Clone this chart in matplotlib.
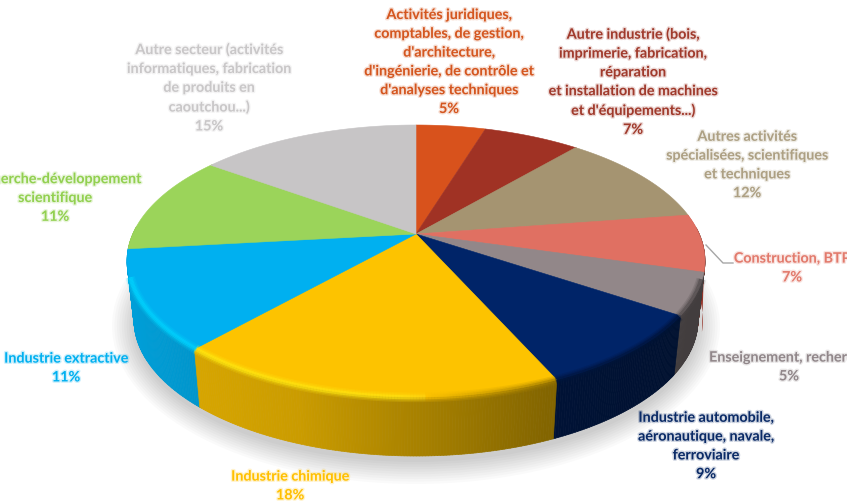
import matplotlib
matplotlib.use("Agg")
import matplotlib.pyplot as plt
import matplotlib.patheffects as pe
from matplotlib.collections import PolyCollection, LineCollection
from matplotlib.patches import Ellipse
from matplotlib.colors import to_rgb
import numpy as np

plt.rcParams['font.family'] = ['Lato', 'DejaVu Sans']

labels = [
    "Activités juridiques,\ncomptables, de gestion,\nd'architecture,\nd'ingénierie, de contrôle et\nd'analyses techniques",
    "Autre industrie (bois,\nimprimerie, fabrication,\nréparation\net installation de machines\net d'équipements...)",
    "Autres activités\nspécialisées, scientifiques\net techniques",
    "Construction, BTP",
    "Enseignement, recherche",
    "Industrie automobile,\naéronautique, navale,\nferroviaire",
    "Industrie chimique",
    "Industrie extractive",
    "Recherche-développement\nscientifique",
    "Autre secteur (activités\ninformatiques, fabrication\nde produits en\ncaoutchou...)",
]
values = [5, 7, 12, 7, 5, 9, 18, 11, 11, 15]
colors = ['#D8521C', '#A03224', '#A59471', '#E07062', '#928789',
          '#002468', '#FDC300', '#00B0F0', '#9BD45A', '#C7C5C6']
text_colors = ['#D4561F', '#A03A2C', '#ADA083', '#E27A6C', '#91878A',
               '#0A2A66', '#FFC000', '#00B0F0', '#92D050', '#C9C7C8']
label_x = [449, 633, 747, 792, 789, 706, 290, 66, 55, 209]
label_y = [62, 82, 165, 268, 367, 446, 486, 368, 198, 88]

# geometry of the tilted pie, in pixels
cx, cy, rx, ry = 416, 261, 289, 136
apex = (416, 234)
bx, by, brx, bry = 416, 320, 282, 136


def warp(deg):
    # pie angle -> angle on the drawn ellipse (perspective)
    r = np.radians(deg)
    return np.radians(deg - 12.7 * np.sin(r) + 3.7 * np.cos(r) - 3.7)


def top(t, k=1.0):
    return cx + k * rx * np.sin(t), cy - k * ry * np.cos(t)


def bottom(t):
    return bx + brx * np.sin(t), by - bry * np.cos(t)


fig = plt.figure(figsize=(8.47, 5.01), dpi=100)
ax = fig.add_axes([0, 0, 1, 1])
ax.set_xlim(0, 847)
ax.set_ylim(501, 0)
ax.axis('off')

# soft shadow under the pie
for g in np.linspace(0, 22, 10):
    ax.add_patch(Ellipse((bx, by + 6), 2 * brx + 2 * g, 2 * bry + 2 * g,
                         fc='black', ec='none', alpha=0.018, zorder=1))

edges = np.concatenate([[0], np.cumsum(values)]) / sum(values) * 360

# the Construction slice sticks out a little behind its neighbour
t = warp(np.arange(edges[3], edges[4] + 0.5, 0.5))
x1, y1 = top(t)
x2, y2 = bottom(t)
ax.fill(np.r_[x1, x2[::-1] + 5], np.r_[y1, y2[::-1]], color='#96352A', lw=0, zorder=1.5)

# side of the pie, darker towards the right
polys, cols = [], []
for i, c in enumerate(colors):
    a = np.arange(edges[i], edges[i + 1] + 0.5, 0.5)
    t = warp(a)
    x1, y1 = top(t)
    x2, y2 = bottom(t)
    base = np.array(to_rgb(c))
    for j in range(len(a) - 1):
        if np.cos(t[j]) > 0.25:
            continue
        polys.append([(x1[j], y1[j]), (x1[j + 1], y1[j + 1]),
                      (x2[j + 1], y2[j + 1]), (x2[j], y2[j])])
        f = np.interp(x1[j], [130, 195, 300, 548, 700], [0.9, 0.85, 0.8, 0.52, 0.45])
        cols.append(base * f)
order = np.argsort([p[0][1] for p in polys])
ax.add_collection(PolyCollection([polys[o] for o in order],
                                 facecolors=[cols[o] for o in order],
                                 edgecolors=[cols[o] for o in order],
                                 linewidths=0.5, zorder=2))

# top face
for i, c in enumerate(colors):
    t = warp(np.arange(edges[i], edges[i + 1] + 0.5, 0.5))
    x, y = top(t)
    ax.fill(np.r_[apex[0], x], np.r_[apex[1], y], color=c, lw=0.4, zorder=3)

# bevel on the front edge: bright on the left, dark on the right
segs, seg_cols = [], []
for i, c in enumerate(colors):
    a = np.arange(edges[i], edges[i + 1] + 0.5, 0.5)
    t = warp(a)
    x, y = top(t, 0.995)
    base = np.array(to_rgb(c))
    for j in range(len(a) - 1):
        if np.cos(t[j]) > -0.12:
            continue
        m = np.interp(x[j], [130, 400, 560, 700], [1.12, 1.08, 0.6, 0.5])
        col = np.clip(base * m, 0, 1)
        if m > 1:
            col = np.clip(col + np.array([0, 0.07, 0.07]), 0, 1)
        segs.append([(x[j], y[j] + 1), (x[j + 1], y[j + 1] + 1)])
        seg_cols.append(col)
for lw, al in [(7, 0.18), (5, 0.25), (3, 0.55)]:
    ax.add_collection(LineCollection(segs, colors=seg_cols, linewidths=lw, alpha=al,
                                     capstyle='butt', zorder=4))

# leader line of the Construction label
ax.plot([706, 723, 733], [245, 263, 263], color='#A6A6A6', lw=1, zorder=2)

for i in range(len(labels)):
    ax.text(label_x[i], label_y[i], f"{labels[i]}\n{values[i]}%", color=text_colors[i],
            ha='center', va='center', ma='center', fontsize=10.3, fontweight='bold',
            linespacing=1.68, zorder=5,
            path_effects=[pe.withStroke(linewidth=2, foreground=text_colors[i], alpha=0.2)])

fig.savefig('out.png', dpi=100)
